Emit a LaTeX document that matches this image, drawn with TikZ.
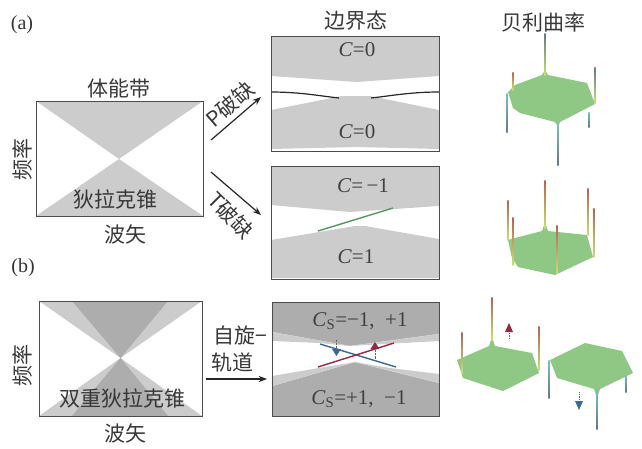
\documentclass[tikz,border=0pt]{standalone}
\usepackage{fontspec}
\setmainfont{Liberation Serif}
\newfontfamily\cjk{Noto Sans CJK SC}
\usetikzlibrary{calc,arrows.meta}
\definecolor{bandgray}{gray}{0.80}
\definecolor{darkband}{gray}{0.68}
\definecolor{sheet}{RGB}{142,200,132}
\definecolor{hot}{RGB}{175,100,85}
\definecolor{warm}{RGB}{200,222,120}
\definecolor{cool}{RGB}{120,195,190}
\definecolor{deep}{RGB}{100,120,135}
\definecolor{edgeblue}{RGB}{60,105,145}
\definecolor{edgered}{RGB}{150,40,65}
\definecolor{edgegreen}{RGB}{85,150,100}
\tikzset{
  cn/.style={font=\fontsize{21}{23}\selectfont\cjk, text=black!78, inner sep=0pt},
  chern/.style={font=\fontsize{21}{23}\selectfont, text=black!75, inner sep=0pt},
  frm/.style={draw=black!70, line width=1pt, minimum width=#1, inner sep=0pt},
  spike/.style={line width=0pt}
}
\begin{document}
\begin{tikzpicture}[x=1pt, y=-1pt, >=Stealth]
  \useasboundingbox (0,0) rectangle (642,448);
  % ------------------------------------------------------------------ (a): bulk bands
  \node[font=\fontsize{20}{22}\selectfont, text=black!80] (tagA) at (22,25) {(a)};
  \fill[bandgray] (36,101) -- (203,101) -- (119,159) -- cycle;
  \fill[bandgray] (36,216) -- (203,216) -- (119,159) -- cycle;
  \node[frm=167pt, minimum height=115pt] (bulkA) at (119.5,158.5) {};
  \node[cn] (titleA) at (119,88) {体能带};
  \node[cn, rotate=90] (freqA) at (22,159) {频率};
  \node[cn] (coneA) at (115,199) {狄拉克锥};
  \node[cn] (waveA) at (125,234) {波矢};
  % ------------------------------------------------------------------ arrows
  \coordinate (pfrom) at (211,140);
  \coordinate (pto) at (261,97);
  \coordinate (tfrom) at (211,172);
  \coordinate (tto) at (261,215);
  \draw[->, line width=1.2pt, black!85] (pfrom) -- (pto);
  \draw[->, line width=1.2pt, black!85] (tfrom) -- (tto);
  \node[cn, rotate=41] (labP) at (230,104) {P破缺};
  \node[cn, rotate=-45] (labT) at (231,215) {T破缺};
  % ------------------------------------------------------------------ edge states, P broken
  \node[cn] (titleEdge) at (356,21) {边界态};
  \fill[bandgray] (271,36) -- (439,36) -- (439,76) -- (357,82) -- (271,76) -- cycle;
  \fill[bandgray] (271,110) -- (342,96) -- (370,96) -- (439,110) -- (439,149)
    -- (357,147) -- (271,149) -- cycle;
  \coordinate (pl) at (271,92);
  \coordinate (pr) at (439,92);
  \coordinate (pli) at (339,98);
  \coordinate (pri) at (371,98);
  \draw[line width=1.2pt, black!85] (pl) .. controls (300,92) and (320,96) .. (pli);
  \draw[line width=1.2pt, black!85] (pr) .. controls (410,92) and (390,96) .. (pri);
  \node[frm=168pt, minimum height=115pt] (edgeP) at (355,93.5) {};
  \node[chern] (cP1) at (357,50) {\textit{C}=0};
  \node[chern] (cP2) at (357,132) {\textit{C}=0};
  % ------------------------------------------------------------------ edge states, T broken
  \fill[bandgray] (271,166) -- (439,166) -- (439,206) -- (350,212) -- (271,205) -- cycle;
  \fill[bandgray] (271,240) -- (355,226) -- (365,226) -- (439,239) -- (439,278)
    -- (271,278) -- cycle;
  \coordinate (gl) at (318,231);
  \coordinate (gr) at (393,208);
  \draw[line width=1.4pt, edgegreen] (gl) -- (gr);
  \node[frm=168pt, minimum height=113pt] (edgeT) at (355,222.5) {};
  \node[chern] (cT1) at (363,186) {\textit{C}=\,−1};
  \node[chern] (cT2) at (356,257) {\textit{C}=1};
  % ------------------------------------------------------------------ (b): bulk bands
  \node[font=\fontsize{20}{22}\selectfont, text=black!80] (tagB) at (23,268) {(b)};
  \fill[bandgray] (39,301) -- (202,301) -- (120.5,358) -- cycle;
  \fill[bandgray] (39,416) -- (202,416) -- (120.5,358) -- cycle;
  \fill[darkband] (72,301) -- (168,301) -- (120.5,358) -- cycle;
  \fill[darkband] (72,416) -- (168,416) -- (120.5,358) -- cycle;
  \node[frm=163pt, minimum height=115pt] (bulkB) at (120.5,358.5) {};
  \node[cn, rotate=90] (freqB) at (22,365) {频率};
  \node[cn] (coneB) at (122,398) {双重狄拉克锥};
  \node[cn] (waveB) at (125,433) {波矢};
  \node[cn, anchor=west] (soA) at (213,335) {自旋−};
  \node[cn, anchor=west] (soB) at (211,363) {轨道};
  \coordinate (sfrom) at (206,379);
  \coordinate (sto) at (267,379);
  \draw[->, line width=1.2pt, black!85] (sfrom) -- (sto);
  % ------------------------------------------------------------------ edge states, spin-orbit
  \fill[darkband] (272,302) rectangle (439,416);
  \fill[white] (272,332) -- (350,346) -- (439,334) -- (439,383) -- (355,362) -- (272,386) -- cycle;
  \fill[bandgray] (272,332) -- (350,346) -- (439,334) -- (439,341) -- (385,344) -- (350,346)
    -- (320,343) -- (272,341) -- cycle;
  \fill[bandgray] (272,386) -- (355,362) -- (439,383) -- (439,374) -- (390,368) -- (355,362)
    -- (325,367) -- (272,376) -- cycle;
  \coordinate (rl) at (318,367);
  \coordinate (rr) at (394,343);
  \coordinate (bl) at (320,344);
  \coordinate (br) at (396,367);
  \draw[line width=1.4pt, edgeblue] (bl) -- (br);
  \draw[line width=1.4pt, edgered] (rl) -- (rr);
  \draw[densely dotted, black!60] (336,340) -- (336,350);
  \draw[densely dotted, black!60] (375,350) -- (375,360);
  \fill[edgeblue] (332,349) -- (341,349) -- (336.5,356) -- cycle;
  \fill[edgered] (370.5,349) -- (379.5,349) -- (375,342) -- cycle;
  \node[frm=167pt, minimum height=114pt] (edgeS) at (355.5,359) {};
  \node[chern] (cS1) at (360,321) {\textit{C}\textsubscript{S}=−1,\ \ +1};
  \node[chern] (cS2) at (359,399) {\textit{C}\textsubscript{S}=+1,\ \ −1};
  % ------------------------------------------------------------------ Berry curvature
  \node[cn] (titleBerry) at (543,22) {贝利曲率};
  % upper sheet
  \fill[sheet] (508,92) -- (515,85) -- (542,75) -- (545,70) -- (548,75) -- (587,83) -- (595,104)
    -- (560,122) -- (558,127) -- (555,122) -- (520,113) -- (513,108) -- cycle;
  % middle sheet
  \fill[sheet] (508,240) -- (515,238) -- (542,231) -- (545,222) -- (548,231) -- (587,235)
    -- (593,257) -- (555,275) -- (518,267) -- (512,258) -- cycle;
  % lower sheets
  \fill[sheet] (457,360) -- (489,346) -- (492,337) -- (495,346) -- (532,353) -- (539,373)
    -- (503,391) -- (463,378) -- cycle;
  \fill[sheet] (550,360) -- (585,343) -- (622,351) -- (633,373) -- (600,389) -- (597,398)
    -- (594,389) -- (557,378) -- cycle;
  % x / top end / bottom end / colour at the top / colour at the bottom
  \foreach \x/\yt/\yb/\ct/\cb in {
      545/33/75/deep/warm, 513/72/90/hot/warm, 595/67/103/deep/warm,
      507/93/132/cool/deep, 558/123/165/cool/deep, 589/112/127/cool/deep,
      545/180/228/hot/warm, 508/200/240/hot/warm, 513/217/265/hot/warm,
      557/225/273/hot/warm, 588/188/235/hot/warm, 594/208/257/hot/warm,
      492/297/340/hot/warm, 462/332/373/hot/warm, 539/326/370/hot/warm,
      549/360/398/cool/deep, 597/388/429/cool/deep, 626/375/392/cool/deep} {
    \shade[spike, top color=\ct, bottom color=\cb] (\x-0.7,\yt) rectangle (\x+0.7,\yb);
  }
  % spin arrows
  \draw[densely dotted, line width=0.8pt, black!60] (509,331) -- (509,340);
  \fill[edgered] (505,332) -- (513,332) -- (509,323) -- cycle;
  \draw[densely dotted, line width=0.8pt, black!60] (579,392) -- (579,401);
  \fill[edgeblue] (575,401) -- (583,401) -- (579,410) -- cycle;
\end{tikzpicture}
\end{document}
